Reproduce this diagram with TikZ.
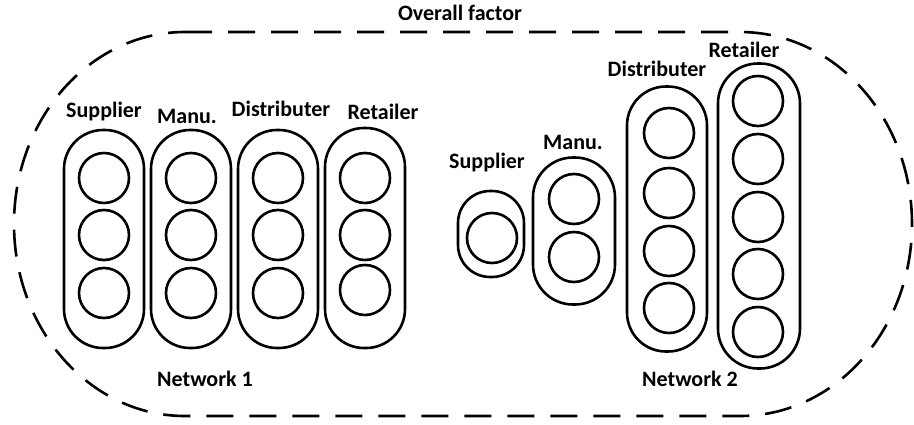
\documentclass[tikz,border=0pt]{standalone}
\usepackage{fontspec}
\setmainfont{Carlito}
\begin{document}
\begin{tikzpicture}[x=1pt,y=-1pt,
  lbl/.style={font=\bfseries\fontsize{22}{25}\selectfont, inner sep=0pt},
  unit/.style={draw, circle, line width=2.6pt, minimum size=50pt, inner sep=0pt},
  pill/.style={draw, line width=2.6pt, inner sep=0pt, rounded corners=#1},
  pill/.default=39pt,
  outer/.style={line width=2.6pt, dash pattern=on 27pt off 16pt}]
\useasboundingbox (0,0) rectangle (914,424);

% overall dashed boundary
\draw[outer] (185,32) -- (740,32)
  arc[start angle=90, end angle=-90, x radius=172pt, y radius=192pt]
  -- (185,416)
  arc[start angle=270, end angle=90, x radius=171pt, y radius=192pt] -- cycle;
\node[lbl] (overall) at (460,13) {Overall factor};

% ---- Network 1 ----
\node[pill, minimum width=80pt, minimum height=218pt] (aS) at (104,239) {};
\node[pill, minimum width=80pt, minimum height=218pt] (aM) at (191,239) {};
\node[pill, minimum width=80pt, minimum height=218pt] (aD) at (278,239) {};
\node[pill, minimum width=80pt, minimum height=220pt] (aR) at (365,238) {};
\foreach \i/\y in {1/178,2/235,3/293}{
  \node[unit] (aS\i) at (104,\y) {};
  \node[unit] (aM\i) at (191,\y) {};
  \node[unit] (aD\i) at (278,\y) {};
}
\foreach \i/\y in {1/178,2/235,3/290}{
  \node[unit] (aR\i) at (365,\y) {};
}
\node[lbl] (aSl) at (104,112) {Supplier};
\node[lbl] (aMl) at (187,116) {Manu.};
\node[lbl] (aDl) at (281,109) {Distributer};
\node[lbl] (aRl) at (383,112) {Retailer};
\node[lbl] (net1) at (205,379) {Network 1};

% ---- Network 2 ----
\node[pill=32pt, minimum width=66pt, minimum height=86pt] (bS) at (491,234) {};
\node[pill=40pt, minimum width=82pt, minimum height=147pt] (bM) at (574,231) {};
\node[pill, minimum width=80pt, minimum height=265pt] (bD) at (667,219) {};
\node[pill=40pt, minimum width=82pt, minimum height=305pt] (bR) at (759,216) {};
\node[unit] (bS1) at (492,238) {};
\foreach \i/\y in {1/199,2/257}{
  \node[unit] (bM\i) at (574,\y) {};
}
\foreach \i/\y in {1/133,2/193,3/251,4/308}{
  \node[unit] (bD\i) at (669,\y) {};
}
\foreach \i/\y in {1/101,2/159,3/217,4/274,5/332}{
  \node[unit] (bR\i) at (758,\y) {};
}
\node[lbl] (bSl) at (487,163) {Supplier};
\node[lbl] (bMl) at (573,142) {Manu.};
\node[lbl] (bDl) at (657,69) {Distributer};
\node[lbl] (bRl) at (744,50) {Retailer};
\node[lbl] (net2) at (690,379) {Network 2};
\end{tikzpicture}
\end{document}
